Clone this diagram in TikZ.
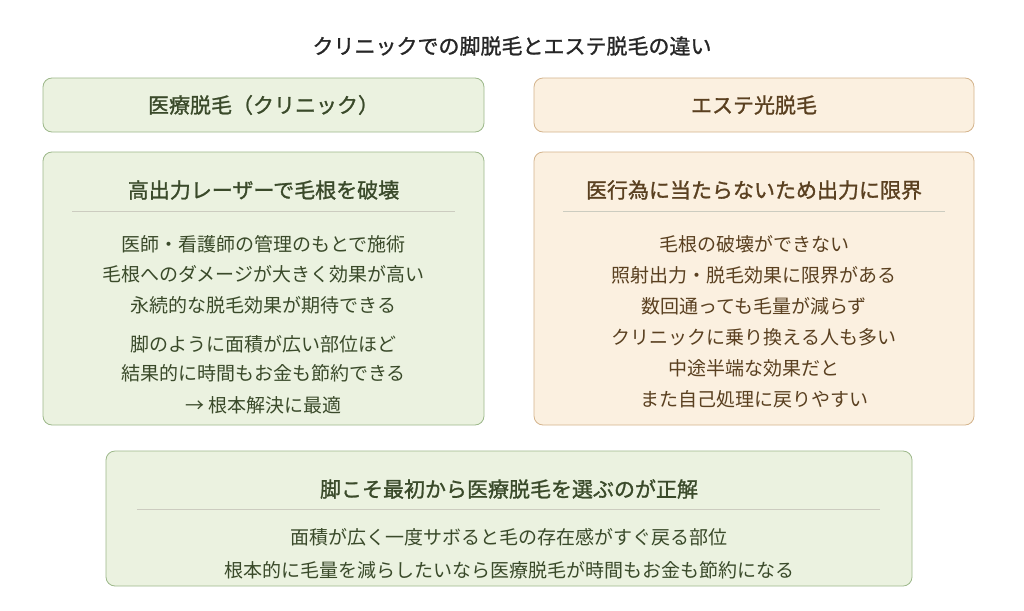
\documentclass[tikz,border=0pt]{standalone}
\usepackage{fontspec}
\setmainfont{Noto Sans CJK JP}
\newfontfamily\hdfont[FakeBold=1.2]{Noto Sans CJK JP}
\begin{document}
\begin{tikzpicture}[x=1pt,y=-1pt,
  gbox/.style={draw=gB,fill=gF,rounded corners=9pt,line width=0.8pt},
  obox/.style={draw=oB,fill=oF,rounded corners=9pt,line width=0.8pt},
  ghd/.style={text=gT,font=\hdfont\fontsize{21}{24}\selectfont},
  ohd/.style={text=oT,font=\hdfont\fontsize{21}{24}\selectfont},
  gtx/.style={text=gT,font=\fontsize{19}{22}\selectfont},
  otx/.style={text=oT,font=\fontsize{19}{22}\selectfont},
  sep/.style={draw=sepC,line width=0.7pt}]
\definecolor{gF}{HTML}{EBF2E0}\definecolor{gB}{HTML}{9DB88A}\definecolor{gT}{HTML}{3A4A2A}
\definecolor{oF}{HTML}{FBF0E0}\definecolor{oB}{HTML}{D4B48C}\definecolor{oT}{HTML}{5A4020}
\definecolor{sepC}{HTML}{CCCCC0}
\useasboundingbox[fill=white] (0,0) rectangle (1024,610);
\node[font=\hdfont\fontsize{21}{24}\selectfont,text=black!85] (title) at (512,46) {クリニックでの脚脱毛とエステ脱毛の違い};
\draw[gbox] (43,78) rectangle (484,132); \node[ghd] (lh) at (263.5,105) {医療脱毛（クリニック）};
\draw[obox] (534,78) rectangle (974,132); \node[ohd] (rh) at (754,105) {エステ光脱毛};
\draw[gbox] (43,152) rectangle (484,425);
\node[ghd] (lt) at (263.5,190) {高出力レーザーで毛根を破壊};
\draw[sep] (72,211) -- (455,211);
\node[gtx] (l1) at (263.5,244) {医師・看護師の管理のもとで施術};
\node[gtx] (l2) at (263.5,274) {毛根へのダメージが大きく効果が高い};
\node[gtx] (l3) at (263.5,305) {永続的な脱毛効果が期待できる};
\node[gtx] (l4) at (263.5,344) {脚のように面積が広い部位ほど};
\node[gtx] (l5) at (263.5,373) {結果的に時間もお金も節約できる};
\node[gtx] (l6) at (263.5,405) {→ 根本解決に最適};
\draw[obox] (534,152) rectangle (974,425);
\node[ohd] (rt) at (754,190) {医行為に当たらないため出力に限界};
\draw[sep] (563,211) -- (945,211);
\node[otx] (r1) at (754,244) {毛根の破壊ができない};
\node[otx] (r2) at (754,275) {照射出力・脱毛効果に限界がある};
\node[otx] (r3) at (754,306) {数回通っても毛量が減らず};
\node[otx] (r4) at (754,337) {クリニックに乗り換える人も多い};
\node[otx] (r5) at (754,368) {中途半端な効果だと};
\node[otx] (r6) at (754,399) {また自己処理に戻りやすい};
\draw[gbox] (106,451) rectangle (912,586);
\node[ghd] (bt) at (509,489) {脚こそ最初から医療脱毛を選ぶのが正解};
\draw[sep] (137,509) -- (880,509);
\node[gtx] (b1) at (509,537) {面積が広く一度サボると毛の存在感がすぐ戻る部位};
\node[gtx] (b2) at (509,570) {根本的に毛量を減らしたいなら医療脱毛が時間もお金も節約になる};
\end{tikzpicture}
\end{document}
